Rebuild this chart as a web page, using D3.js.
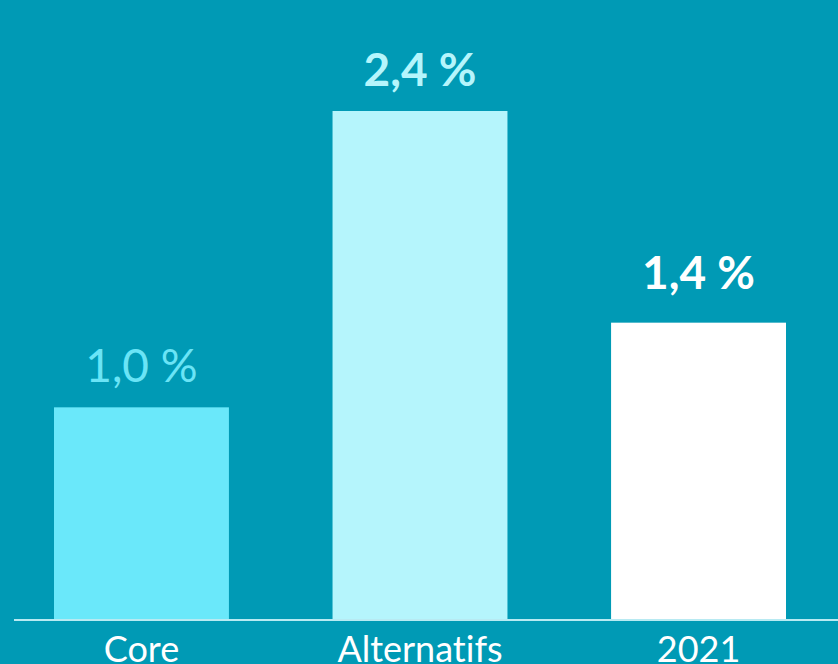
<!DOCTYPE html>
<html><head><meta charset="utf-8">
<script src="https://cdn.jsdelivr.net/npm/d3@7"></script>
<style>
html,body{margin:0;padding:0;background:#009ab5;overflow:hidden;}
svg{display:block;}
text{font-variant-ligatures:none;font-feature-settings:"liga" 0;}
</style></head>
<body>
<svg id="chart" width="838" height="664"></svg>
<script>
const categories = ["Core", "Alternatifs", "2021"];
const values = [1.0, 2.4, 1.4];
const valueLabels = ["1,0 %", "2,4 %", "1,4 %"];
const barColors = ["#6ae8fa", "#b5f5fc", "#ffffff"];
const labelColors = ["#6ae4f6", "#b5f5fc", "#ffffff"];
const labelWeights = ["normal", "bold", "bold"];

const W = 838, H = 664;
const svg = d3.select("#chart");
svg.append("rect").attr("width", W).attr("height", H).attr("fill", "#009ab5");

const font = "Lato, 'Open Sans', sans-serif";
const baseY = 619;
const x = d3.scaleBand().domain(categories).range([14, 826]).paddingInner(0.372).paddingOuter(0.1436);
const y = d3.scaleLinear().domain([0, 2.4]).range([baseY, 111]);

svg.selectAll("rect.bar").data(values).join("rect")
  .attr("class", "bar")
  .attr("x", (d, i) => x(categories[i]))
  .attr("width", x.bandwidth())
  .attr("y", d => y(d))
  .attr("height", d => y(0) - y(d))
  .attr("fill", (d, i) => barColors[i]);

svg.selectAll("text.val").data(values).join("text")
  .attr("class", "val")
  .attr("x", (d, i) => x(categories[i]) + x.bandwidth() / 2)
  .attr("y", (d, i) => y(d) - (i === 2 ? 34 : 25))
  .attr("text-anchor", "middle")
  .attr("font-family", font)
  .attr("font-size", 46)
  .attr("font-weight", (d, i) => labelWeights[i])
  .attr("fill", (d, i) => labelColors[i])
  .text((d, i) => valueLabels[i]);

// axis
const axis = d3.axisBottom(x).tickSize(0).tickPadding(0);
const g = svg.append("g").attr("transform", `translate(0,${baseY})`).call(axis);
g.select(".domain").remove();
g.selectAll("text").attr("font-family", font).attr("font-size", 36).attr("fill", "#ffffff")
  .attr("y", 43).attr("dy", 0);
svg.append("line").attr("x1", 14).attr("x2", W).attr("y1", baseY + 1).attr("y2", baseY + 1)
  .attr("stroke", "#b8eaf2").attr("stroke-width", 2);
</script>
</body></html>
